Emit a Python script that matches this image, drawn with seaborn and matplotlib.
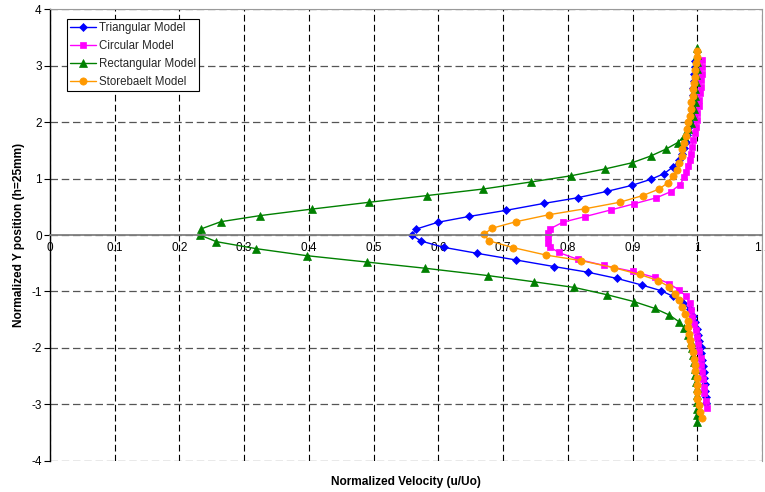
import matplotlib
matplotlib.use("Agg")
import matplotlib.pyplot as plt
import seaborn as sns

# ---------------- data ----------------
tri_y = [3.09, 2.97, 2.85, 2.73, 2.61, 2.49, 2.37, 2.25, 2.13, 2.01,
         1.89, 1.77, 1.65, 1.54, 1.43, 1.33, 1.21, 1.09, 0.99, 0.88,
         0.775, 0.66, 0.56, 0.438, 0.33, 0.225, 0.106, 0.0, -0.106, -0.218,
         -0.325, -0.443, -0.56, -0.66, -0.77, -0.886, -0.987, -1.09, -1.21, -1.32,
         -1.44, -1.55, -1.66, -1.77, -1.88, -1.99, -2.10, -2.21, -2.32, -2.43,
         -2.54, -2.65, -2.76, -2.87, -2.98]
tri_x = [0.996, 0.996, 0.995, 0.995, 0.994, 0.994, 0.993, 0.992, 0.990, 0.988,
         0.986, 0.984, 0.982, 0.979, 0.976, 0.972, 0.963, 0.949, 0.929, 0.899,
         0.861, 0.815, 0.763, 0.705, 0.648, 0.599, 0.566, 0.559, 0.573, 0.608,
         0.660, 0.720, 0.779, 0.831, 0.876, 0.914, 0.944, 0.963, 0.978, 0.989,
         0.994, 0.997, 1.000, 1.001, 1.003, 1.005, 1.006, 1.008, 1.009, 1.010,
         1.011, 1.012, 1.012, 1.013, 1.013]

circ_y = [3.10, 2.98, 2.86, 2.75, 2.63, 2.51, 2.40, 2.28, 2.16, 2.04,
          1.92, 1.80, 1.68, 1.56, 1.44, 1.33, 1.22, 1.12, 1.02, 0.89,
          0.768, 0.66, 0.555, 0.443, 0.325, 0.225, 0.106, 0.04, -0.04, -0.14,
          -0.21, -0.31, -0.43, -0.54, -0.645, -0.75, -0.86, -0.975, -1.09, -1.21,
          -1.33, -1.45, -1.57, -1.69, -1.81, -1.93, -2.05, -2.18, -2.31, -2.43,
          -2.56, -2.69, -2.81, -2.94, -3.07]
circ_x = [1.008, 1.007, 1.007, 1.006, 1.005, 1.004, 1.003, 1.002, 1.000, 0.999,
          0.998, 0.996, 0.994, 0.992, 0.990, 0.988, 0.985, 0.982, 0.980, 0.973,
          0.959, 0.937, 0.903, 0.866, 0.826, 0.792, 0.772, 0.769, 0.769, 0.770,
          0.772, 0.786, 0.815, 0.856, 0.900, 0.934, 0.956, 0.972, 0.983, 0.988,
          0.990, 0.992, 0.995, 0.998, 1.000, 1.001, 1.003, 1.005, 1.006, 1.008,
          1.009, 1.010, 1.011, 1.013, 1.015]

rect_y = [3.31, 3.19, 3.07, 2.95, 2.83, 2.71, 2.59, 2.47, 2.35, 2.23,
          2.11, 1.99, 1.88, 1.76, 1.64, 1.52, 1.40, 1.28, 1.17, 1.05,
          0.94, 0.815, 0.70, 0.58, 0.46, 0.343, 0.236, 0.106, 0.0, -0.118,
          -0.243, -0.367, -0.479, -0.59, -0.72, -0.83, -0.93, -1.06, -1.18, -1.30,
          -1.42, -1.54, -1.65, -1.77, -1.89, -2.01, -2.13, -2.25, -2.37, -2.49,
          -2.60, -2.72, -2.84, -2.96, -3.08, -3.20, -3.31]
rect_x = [1.000, 1.000, 0.999, 0.999, 0.998, 0.998, 0.997, 0.997, 0.996, 0.995,
          0.993, 0.990, 0.986, 0.980, 0.970, 0.951, 0.928, 0.899, 0.857, 0.805,
          0.743, 0.669, 0.583, 0.493, 0.405, 0.324, 0.264, 0.233, 0.2315, 0.257,
          0.319, 0.397, 0.489, 0.580, 0.677, 0.748, 0.810, 0.861, 0.902, 0.934,
          0.957, 0.972, 0.980, 0.986, 0.990, 0.992, 0.994, 0.995, 0.996, 0.997,
          0.998, 0.999, 0.999, 1.000, 1.000, 1.000, 1.000]

store_y = [3.27, 3.16, 3.05, 2.93, 2.81, 2.70, 2.58, 2.46, 2.35, 2.23,
           2.11, 2.00, 1.88, 1.76, 1.64, 1.52, 1.40, 1.28, 1.16, 1.05,
           0.93, 0.815, 0.70, 0.58, 0.466, 0.36, 0.236, 0.12, 0.01, -0.106,
           -0.225, -0.355, -0.456, -0.58, -0.70, -0.81, -0.916, -1.05, -1.16, -1.28,
           -1.40, -1.52, -1.63, -1.75, -1.86, -1.97, -2.07, -2.19, -2.30, -2.42,
           -2.54, -2.66, -2.78, -2.90, -3.02, -3.14, -3.25]
store_x = [1.000, 0.999, 0.998, 0.997, 0.996, 0.995, 0.994, 0.993, 0.991, 0.990,
           0.988, 0.986, 0.984, 0.982, 0.980, 0.977, 0.976, 0.972, 0.968, 0.963,
           0.955, 0.941, 0.916, 0.880, 0.827, 0.771, 0.720, 0.683, 0.670, 0.679,
           0.716, 0.766, 0.821, 0.871, 0.911, 0.940, 0.956, 0.966, 0.971, 0.976,
           0.981, 0.985, 0.986, 0.987, 0.988, 0.991, 0.994, 0.995, 0.996, 0.997,
           0.999, 0.999, 1.000, 1.000, 1.002, 1.004, 1.007]

series_names = ["Triangular Model", "Circular Model", "Rectangular Model", "Storebaelt Model"]
x_ticks = [0, 0.1, 0.2, 0.3, 0.4, 0.5, 0.6, 0.7, 0.8, 0.9, 1.0, 1.1]
x_tick_labels = ["0", "0.1", "0.2", "0.3", "0.4", "0.5", "0.6", "0.7", "0.8", "0.9", "1", "1.1"]
y_ticks = [-4, -3, -2, -1, 0, 1, 2, 3, 4]
y_tick_labels = ["-4", "-3", "-2", "-1", "0", "1", "2", "3", "4"]
x_label = "Normalized Velocity (u/Uo)"
y_label = "Normalized Y position (h=25mm)"

# ---------------- styling ----------------
sns.set_theme(style="white")
plt.rcParams["font.family"] = ["Liberation Sans", "DejaVu Sans"]

fig = plt.figure(figsize=(7.65, 4.92), dpi=100)
ax = fig.add_axes([50 / 765, (492 - 460.6) / 492, 712 / 765, 451.2 / 492])

styles = [
    (tri_x, tri_y, "#0000FF", "D", 3.8),
    (circ_x, circ_y, "#FF00FF", "s", 4.8),
    (rect_x, rect_y, "#008000", "^", 5.2),
    (store_x, store_y, "#FF9900", "o", 5.2),
]
for name, (xs, ys, col, mk, ms) in zip(series_names, styles):
    sns.lineplot(x=xs, y=ys, sort=False, estimator=None, ax=ax, color=col,
                 marker=mk, markersize=ms, markeredgecolor=col,
                 markerfacecolor=col, markeredgewidth=0.5, linewidth=1.0,
                 label=name)

ax.set_xlim(0, 1.1)
ax.set_ylim(-4, 4)
ax.set_xticks(x_ticks)
ax.set_xticklabels(x_tick_labels)
ax.set_yticks(y_ticks)
ax.set_yticklabels(y_tick_labels)

ax.set_axisbelow(True)
ax.xaxis.grid(True, color="black", linestyle=(0, (6, 3)), linewidth=0.8)
ax.yaxis.grid(True, color="#555555", linestyle=(0, (6, 3)), linewidth=0.9)

ax.spines["bottom"].set_position(("data", 0))
ax.spines["bottom"].set_color("#808080")
ax.spines["bottom"].set_linewidth(1.3)
ax.spines["left"].set_color("black")
ax.spines["left"].set_linewidth(1.0)
ax.spines["top"].set_color("#9a9a9a")
ax.spines["top"].set_linewidth(0.8)
ax.spines["right"].set_color("#9a9a9a")
ax.spines["right"].set_linewidth(0.8)

ax.tick_params(axis="x", bottom=False, length=0, pad=5, labelsize=8.5, labelcolor="black")
ax.tick_params(axis="y", left=True, direction="out", length=4, width=0.8,
               color="black", pad=2, labelsize=8.5, labelcolor="black")

ax.set_xlabel(x_label, fontsize=8.6, fontweight="bold", color="black")
ax.xaxis.label.set_va("center")
ax.xaxis.set_label_coords(0.5, -0.047)
ax.set_ylabel(y_label, fontsize=8.6, fontweight="bold", color="black")
ax.yaxis.label.set_va("center")
ax.yaxis.set_label_coords(-0.043, 0.5)

leg = ax.legend(loc="upper left", bbox_to_anchor=(0.0239, 0.979), frameon=True,
                fancybox=False, edgecolor="black", framealpha=1, fontsize=8.3,
                handlelength=2.2, handletextpad=0.25, labelspacing=0.5,
                borderpad=0.3, borderaxespad=0)
leg.get_frame().set_linewidth(0.8)

fig.savefig("out.png", dpi=100)
